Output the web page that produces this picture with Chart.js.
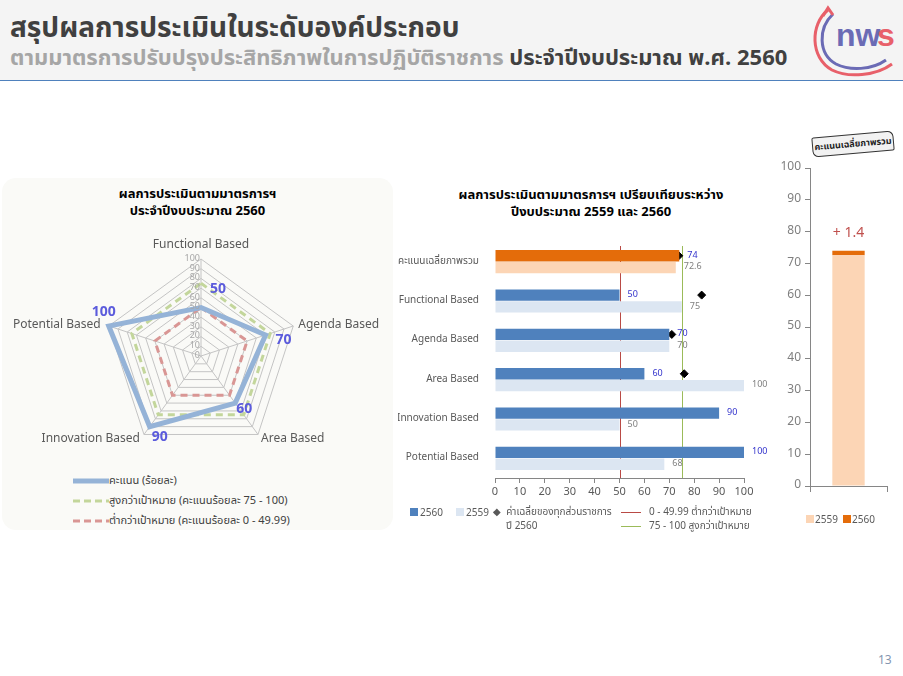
<!DOCTYPE html>
<html>
<head>
<meta charset="utf-8">
<script src="https://cdn.jsdelivr.net/npm/chart.js@4"></script>
<style>
  body { margin: 0; width: 903px; height: 676px; background: #fff; position: relative; overflow: hidden;
         font-family: Tahoma, "Noto Sans Thai", "Noto Sans", sans-serif; }
  .abs { position: absolute; }
  #header { left: 0; top: 0; width: 903px; height: 80px; background: #f4f4f4; border-bottom: 1px solid #4f81bd; }
  #title { left: 10px; top: 7px; font-size: 28px; font-weight: bold; color: #404040; white-space: nowrap; }
  #subtitle { left: 10px; top: 42px; font-size: 22px; font-weight: bold; color: #a6a6a6; white-space: nowrap; }
  #subtitle span { color: #404040; }
  #radarPanel { left: 2px; top: 178px; width: 391px; height: 352px; background: #fafaf7; border-radius: 14px; }
  .ctitle { text-align: center; font-size: 13px; font-weight: bold; color: #000; line-height: 17px; white-space: nowrap; }
  .leg { font-size: 11px; color: #404040; white-space: nowrap; }
  .leg2 { font-size: 10px; color: #595959; white-space: nowrap; }
  #banner { left: 812px; top: 134px; width: 80px; height: 18px; background: #f2f2f2; border: 1px solid #333;
            font-size: 9px; font-weight: bold; color: #222; text-align: center; line-height: 18px;
            transform: rotate(-5deg); border-radius: 2px 6px 2px 6px; }
  #pageno { left: 878px; top: 651px; font-size: 12px; color: #8496b0; }
</style>
</head>
<body>
<div id="header" class="abs"></div>
<div id="title" class="abs">สรุปผลการประเมินในระดับองค์ประกอบ</div>
<div id="subtitle" class="abs">ตามมาตรการปรับปรุงประสิทธิภาพในการปฏิบัติราชการ <span>ประจำปีงบประมาณ พ.ศ. 2560</span></div>
<svg class="abs" style="left:806px;top:2px" width="96" height="78" viewBox="0 0 96 78">
  <path d="M22 8 C4 22 4 56 26 68 C42 76 70 74 86 62" fill="none" stroke="#e8606a" stroke-width="3"/>
  <path d="M27 12 C12 26 12 52 30 62 C44 69 66 68 80 58" fill="none" stroke="#6b6bb5" stroke-width="3"/>
  <path d="M17 14 L22 6 L27 13" fill="none" stroke="#e8606a" stroke-width="3"/>
  <text x="30" y="44" font-family="Arial, sans-serif" font-weight="bold" font-size="32" fill="#6b6bb5">nw</text>
  <text x="71" y="44" font-family="Arial, sans-serif" font-weight="bold" font-size="32" fill="#e8606a">s</text>
</svg>

<div id="radarPanel" class="abs"></div>
<div class="abs ctitle" style="left:2px;top:186px;width:391px">ผลการประเมินตามมาตรการฯ<br>ประจำปีงบประมาณ 2560</div>
<div class="abs" style="left:0;top:228px;width:402px;height:226px"><canvas id="radar"></canvas></div>
<div id="radarLegend" class="abs" style="left:73px;top:472px"></div>

<div class="abs ctitle" style="left:400px;top:187px;width:382px">ผลการประเมินตามมาตรการฯ เปรียบเทียบระหว่าง<br>ปีงบประมาณ 2559 และ 2560</div>
<div class="abs" style="left:398px;top:228px;width:372px;height:272px"><canvas id="bars"></canvas></div>
<div id="barLegend" class="abs" style="left:410px;top:505px;width:360px;height:30px"></div>

<div id="banner" class="abs">คะแนนเฉลี่ยภาพรวม</div>
<div class="abs" style="left:765px;top:155px;width:135px;height:345px"><canvas id="total"></canvas></div>
<div id="totalLegend" class="abs leg2" style="left:806px;top:512px"></div>
<div id="pageno" class="abs">13</div>

<script>
// radar: score per component, 2560
const components = ["Functional Based", "Agenda Based", "Area Based", "Innovation Based", "Potential Based"];
const score2560 = [50, 70, 60, 90, 100];
const highTarget = [75, 75, 75, 75, 75];
const lowTarget = [49.99, 49.99, 49.99, 49.99, 49.99];
const radarTicks = [0, 10, 20, 30, 40, 50, 60, 70, 80, 90, 100];

// bar comparison 2559 vs 2560
const barCategories = ["คะแนนเฉลี่ยภาพรวม", "Functional Based", "Agenda Based", "Area Based", "Innovation Based", "Potential Based"];
const bar2560 = [74, 50, 70, 60, 90, 100];
const bar2559 = [72.6, 75, 70, 100, 50, 68];
const avgAll2560 = [73.8, 83, 71, 76, 65, 88.5];
const thresholds = [50, 75];
const xTicks = [0, 10, 20, 30, 40, 50, 60, 70, 80, 90, 100];

// overall average
const totalYears = ["2559", "2560"];
const total2559 = [72.6];
const totalIncrease = [1.4];

const radarColors = ["#95b3d7", "#c3d69b", "#d99694"];
const radarNames = ["คะแนน (ร้อยละ)", "สูงกว่าเป้าหมาย (คะแนนร้อยละ 75 - 100)", "ต่ำกว่าเป้าหมาย (คะแนนร้อยละ 0 - 49.99)"];
const thaiFont = 'Tahoma, "Noto Sans Thai", "Noto Sans", sans-serif';

Chart.defaults.font.family = thaiFont;
Chart.defaults.animation = false;

// placement of radar texts relative to the outer vertex / data point (px)
const pointLabelPlace = [["center", 0, -13], ["left", 5, 0], ["left", 3, 5], ["right", -4, 5], ["right", -8, 0]];
const radarLabelShift = [[17, -17], [18, 6], [9, 7], [10, 12], [-5, -13]];

const radarLabels = {
  id: "radarLabels",
  afterDatasetsDraw(chart) {
    const ctx = chart.ctx;
    const r = chart.scales.r;
    ctx.save();
    ctx.textBaseline = "middle";
    // tick numbers
    ctx.font = "9px " + thaiFont;
    ctx.fillStyle = "#a6a6a6";
    ctx.textAlign = "right";
    radarTicks.forEach(t => {
      ctx.fillText(t, r.xCenter - 1, r.yCenter - r.getDistanceFromCenterForValue(t));
    });
    // axis names
    ctx.font = "12px " + thaiFont;
    ctx.fillStyle = "#595959";
    components.forEach((name, i) => {
      const p = r.getPointPositionForValue(i, 100);
      const [al, dx, dy] = pointLabelPlace[i];
      ctx.textAlign = al;
      ctx.fillText(name, p.x + dx, p.y + dy);
    });
    // score numbers
    ctx.font = "bold 14px " + thaiFont;
    ctx.fillStyle = "#5b5bdc";
    ctx.textAlign = "center";
    chart.getDatasetMeta(0).data.forEach((pt, i) => {
      ctx.fillText(score2560[i], pt.x + radarLabelShift[i][0], pt.y + radarLabelShift[i][1]);
    });
    ctx.restore();
  }
};

new Chart(document.getElementById("radar"), {
  type: "radar",
  data: {
    labels: components,
    datasets: [
      { label: radarNames[0], data: score2560, borderColor: radarColors[0], borderWidth: 5, pointRadius: 0, fill: false },
      { label: radarNames[1], data: highTarget, borderColor: radarColors[1], borderWidth: 3, borderDash: [7, 5], pointRadius: 0, fill: false },
      { label: radarNames[2], data: lowTarget, borderColor: radarColors[2], borderWidth: 3, borderDash: [7, 5], pointRadius: 0, fill: false }
    ]
  },
  options: {
    responsive: true,
    maintainAspectRatio: false,
    layout: { padding: { left: 0, right: 0, top: 31, bottom: 1 } },
    plugins: { legend: { display: false }, tooltip: { enabled: false } },
    scales: {
      r: {
        min: 0, max: 100,
        ticks: { stepSize: 10, display: false },
        grid: { color: "#c4c4c4" },
        angleLines: { color: "#c4c4c4" },
        pointLabels: { display: false }
      }
    }
  },
  plugins: [radarLabels]
});

// radar legend
document.getElementById("radarLegend").innerHTML = radarNames.map((n, i) => {
  const dash = i === 0 ? "" : 'stroke-dasharray="7 4"';
  const w = i === 0 ? 5 : 3;
  return '<div class="leg" style="height:20px;line-height:18px">' +
    '<svg width="36" height="10" style="vertical-align:middle"><line x1="0" y1="5" x2="36" y2="5" stroke="' + radarColors[i] + '" stroke-width="' + w + '" ' + dash + '/></svg>' +
    n + '</div>';
}).join("");

// bar comparison
const barColors2560 = ["#e46c0a", "#4f81bd", "#4f81bd", "#4f81bd", "#4f81bd", "#4f81bd"];
const barColors2559 = ["#fcd5b5", "#dce6f2", "#dce6f2", "#dce6f2", "#dce6f2", "#dce6f2"];
const thresholdColors = ["#b94a45", "#9bbb59"];

const barExtras = {
  id: "barExtras",
  afterDatasetsUpdate(chart) {
    // put the diamonds on the 2560 bar row
    const bars = chart.getDatasetMeta(0).data;
    chart.getDatasetMeta(2).data.forEach((pt, i) => { pt.y = bars[i].y; });
  },
  beforeDatasetsDraw(chart) {
    const ctx = chart.ctx, x = chart.scales.x, a = chart.chartArea;
    ctx.save();
    thresholds.forEach((t, i) => {
      const px = Math.round(x.getPixelForValue(t)) + 0.5;
      ctx.strokeStyle = thresholdColors[i];
      ctx.lineWidth = 1;
      ctx.beginPath();
      ctx.moveTo(px, a.top + 4);
      ctx.lineTo(px, a.bottom);
      ctx.stroke();
    });
    ctx.restore();
  },
  afterDatasetsDraw(chart) {
    const ctx = chart.ctx;
    ctx.save();
    ctx.font = "9px " + thaiFont;
    ctx.textBaseline = "middle";
    ctx.textAlign = "left";
    [[0, "#3333cc", bar2560], [1, "#808080", bar2559]].forEach(([di, col, vals]) => {
      ctx.fillStyle = col;
      chart.getDatasetMeta(di).data.forEach((b, i) => ctx.fillText(vals[i], b.x + 8, b.y));
    });
    ctx.restore();
  }
};

new Chart(document.getElementById("bars"), {
  type: "bar",
  data: {
    labels: barCategories,
    datasets: [
      { label: "2560", data: bar2560, backgroundColor: barColors2560, categoryPercentage: 0.6, barPercentage: 0.96 },
      { label: "2559", data: bar2559, backgroundColor: barColors2559, categoryPercentage: 0.6, barPercentage: 0.96 },
      { type: "line", label: "ค่าเฉลี่ยของทุกส่วนราชการ ปี 2560", indexAxis: "y", data: avgAll2560, showLine: false,
        pointStyle: "rectRot", pointRadius: 4, backgroundColor: "#000", borderColor: "#000" }
    ]
  },
  options: {
    indexAxis: "y",
    responsive: true,
    maintainAspectRatio: false,
    layout: { padding: { top: 8, right: 26, left: 0, bottom: 0 } },
    plugins: { legend: { display: false }, tooltip: { enabled: false } },
    scales: {
      x: {
        min: 0, max: 100,
        afterBuildTicks: s => { s.ticks = xTicks.map(v => ({ value: v })); },
        ticks: { color: "#595959", font: { size: 11 }, padding: 3 },
        grid: { display: true, drawOnChartArea: false, drawTicks: true, tickLength: 5, color: "#868686" },
        border: { color: "#868686" },
        afterFit: s => { s.height = 22; }
      },
      y: {
        ticks: { color: "#595959", font: { size: 10 }, padding: 8 },
        grid: { display: false },
        border: { display: false },
        afterFit: s => { s.width = 97; }
      }
    }
  },
  plugins: [barExtras]
});

// bar legend
document.getElementById("barLegend").innerHTML =
  '<div class="abs leg2" style="left:0;top:0"><span style="display:inline-block;width:8px;height:8px;background:#4f81bd;margin-right:2px"></span>2560</div>' +
  '<div class="abs leg2" style="left:46px;top:0"><span style="display:inline-block;width:8px;height:8px;background:#dce6f2;margin-right:2px"></span>2559</div>' +
  '<div class="abs leg2" style="left:83px;top:0;line-height:14px">◆&nbsp; ค่าเฉลี่ยของทุกส่วนราชการ<br>&nbsp;&nbsp;&nbsp;&nbsp; ปี 2560</div>' +
  '<div class="abs leg2" style="left:211px;top:0;line-height:14px"><span style="display:inline-block;width:20px;border-top:1px solid ' + thresholdColors[0] + ';vertical-align:middle;margin-right:8px"></span>0 - 49.99 ต่ำกว่าเป้าหมาย<br>' +
  '<span style="display:inline-block;width:20px;border-top:1px solid ' + thresholdColors[1] + ';vertical-align:middle;margin-right:8px"></span>75 - 100 สูงกว่าเป้าหมาย</div>';

// overall stacked bar
const totalColors = ["#fcd5b5", "#e46c0a"];
const totalLabel = {
  id: "totalLabel",
  afterDatasetsDraw(chart) {
    const ctx = chart.ctx;
    const top = chart.getDatasetMeta(1).data[0];
    ctx.save();
    ctx.font = "14px " + thaiFont;
    ctx.fillStyle = "#c0504d";
    ctx.textAlign = "center";
    ctx.textBaseline = "middle";
    ctx.fillText("+ " + totalIncrease[0], top.x, top.y - 17);
    ctx.restore();
  }
};

new Chart(document.getElementById("total"), {
  type: "bar",
  data: {
    labels: ["คะแนนเฉลี่ยภาพรวม"],
    datasets: [
      { label: totalYears[0], data: total2559, backgroundColor: totalColors[0], categoryPercentage: 0.42, barPercentage: 1 },
      { label: totalYears[1], data: totalIncrease, backgroundColor: totalColors[1], categoryPercentage: 0.42, barPercentage: 1 }
    ]
  },
  options: {
    responsive: true,
    maintainAspectRatio: false,
    layout: { padding: { top: 13, right: 13, left: 0, bottom: 0 } },
    plugins: { legend: { display: false }, tooltip: { enabled: false } },
    scales: {
      x: {
        stacked: true,
        ticks: { display: false },
        grid: { display: true, drawOnChartArea: false, tickLength: 6, color: "#868686" },
        border: { color: "#868686" },
        afterFit: s => { s.height = 14; }
      },
      y: {
        stacked: true, min: 0, max: 100,
        ticks: { stepSize: 10, color: "#7f7f7f", font: { size: 12 }, padding: 4 },
        grid: { display: true, drawOnChartArea: false, tickLength: 5, color: "#868686" },
        border: { color: "#868686" },
        afterFit: s => { s.width = 45; }
      }
    }
  },
  plugins: [totalLabel]
});

document.getElementById("totalLegend").innerHTML = totalYears.map((y, i) =>
  '<span style="display:inline-block;width:8px;height:8px;background:' + totalColors[i] + ';margin-right:1px"></span>' + y
).join("&nbsp;&nbsp;");
</script>
</body>
</html>
